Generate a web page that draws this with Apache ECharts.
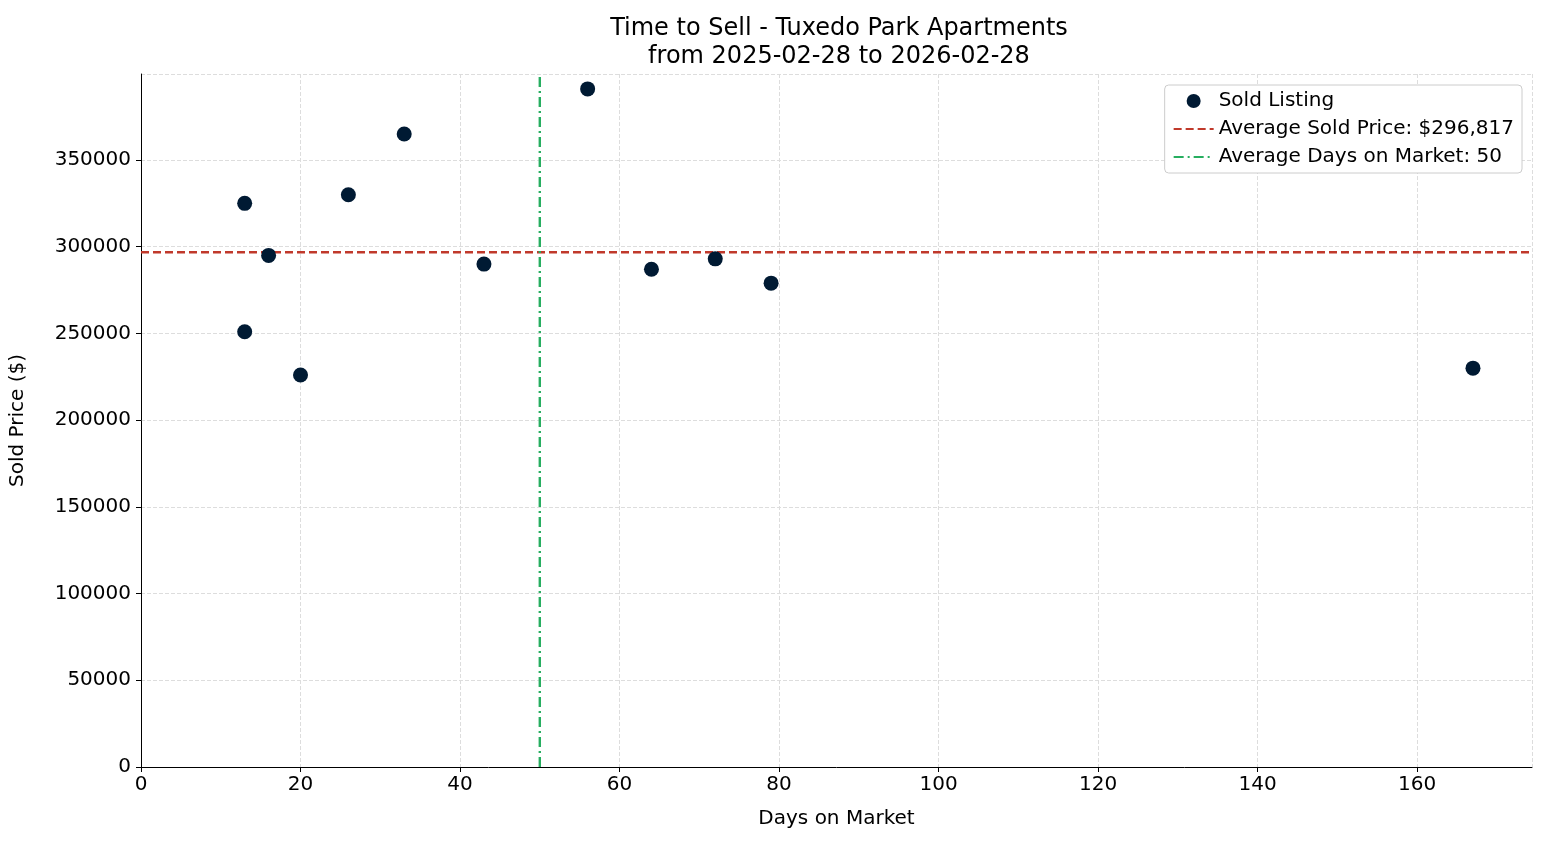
<!DOCTYPE html>
<html><head><meta charset="utf-8">
<script src="https://cdn.jsdelivr.net/npm/echarts@6/dist/echarts.min.js"></script>
<style>html,body{margin:0;padding:0;background:#fff}#c{width:1547px;height:845px}</style>
</head><body><div id="c"></div>
<script>
// data
var daysOnMarket = [13, 16, 13, 20, 26, 33, 43, 56, 64, 72, 79, 167];
var soldPrice = [325000, 295000, 251000, 226000, 330000, 365000, 290000, 391000, 287000, 293000, 279000, 230000];
var avgPrice = 296817;
var avgDays = 50;
var xMax = 174.4, yMax = 399600;

var pts = daysOnMarket.map(function (d, i) { return [d, soldPrice[i]]; });
var font = 'DejaVu Sans';

var chart = echarts.init(document.getElementById('c'));
chart.setOption({
    animation: false,
    textStyle: { fontFamily: font },
    title: {
        text: 'Time to Sell - Tuxedo Park Apartments\nfrom 2025-02-28 to 2026-02-28',
        left: 834, textAlign: 'center', top: 10,
        textStyle: { fontFamily: font, fontSize: 24, fontWeight: 'normal', color: '#000', lineHeight: 28 }
    },
    legend: {
        orient: 'vertical', right: 25, top: 85,
        backgroundColor: '#fff', borderColor: '#ccc', borderWidth: 1, borderRadius: 4,
        padding: [6, 8, 6, 8], itemGap: 8, itemWidth: 40, itemHeight: 14,
        textStyle: { fontFamily: font, fontSize: 20, color: '#000' },
        data: [
            { name: 'Sold Listing', icon: 'circle' },
            { name: 'Average Sold Price: $296,817', itemStyle: { opacity: 0 } },
            { name: 'Average Days on Market: 50', itemStyle: { opacity: 0 } }
        ]
    },
    grid: { left: 137, right: 15, top: 74, bottom: 78 },
    xAxis: {
        type: 'value', min: 0, max: xMax, interval: 20,
        name: 'Days on Market', nameLocation: 'middle', nameGap: 42,
        nameTextStyle: { fontFamily: font, fontSize: 20, color: '#000' },
        axisLine: { lineStyle: { color: '#000' } },
        axisTick: { show: true, length: 5, lineStyle: { color: '#000' } },
        axisLabel: { fontFamily: font, fontSize: 20, color: '#000', showMaxLabel: false, margin: 8 },
        splitLine: { show: true, lineStyle: { color: '#ddd', type: [4, 2] } }
    },
    yAxis: {
        type: 'value', min: 0, max: yMax, interval: 50000,
        name: 'Sold Price ($)', nameLocation: 'middle', nameGap: 113,
        nameTextStyle: { fontFamily: font, fontSize: 20, color: '#000' },
        axisLine: { show: true, lineStyle: { color: '#000' } },
        axisTick: { show: true, length: 5, lineStyle: { color: '#000' } },
        axisLabel: { fontFamily: font, fontSize: 20, color: '#000', showMaxLabel: false, margin: 10,
            formatter: function (v) { return String(v); } },
        splitLine: { show: true, lineStyle: { color: '#ddd', type: [4, 2] } }
    },
    series: [
        {
            name: 'Sold Listing', type: 'scatter', data: pts, symbolSize: 15, z: 5,
            itemStyle: { color: '#001a33', opacity: 1 }
        },
        {
            name: 'Average Sold Price: $296,817', type: 'line', symbol: 'none',
            data: [[0, avgPrice], [xMax, avgPrice]],
            lineStyle: { color: '#c0392b', width: 2.4, type: [8, 4] }, itemStyle: { color: '#c0392b' }
        },
        {
            name: 'Average Days on Market: 50', type: 'line', symbol: 'none',
            data: [[avgDays, 0], [avgDays, yMax]],
            lineStyle: { color: '#27ae60', width: 2.4, type: [10, 4, 2, 4] }, itemStyle: { color: '#27ae60' }
        }
    ]
});
</script></body></html>
